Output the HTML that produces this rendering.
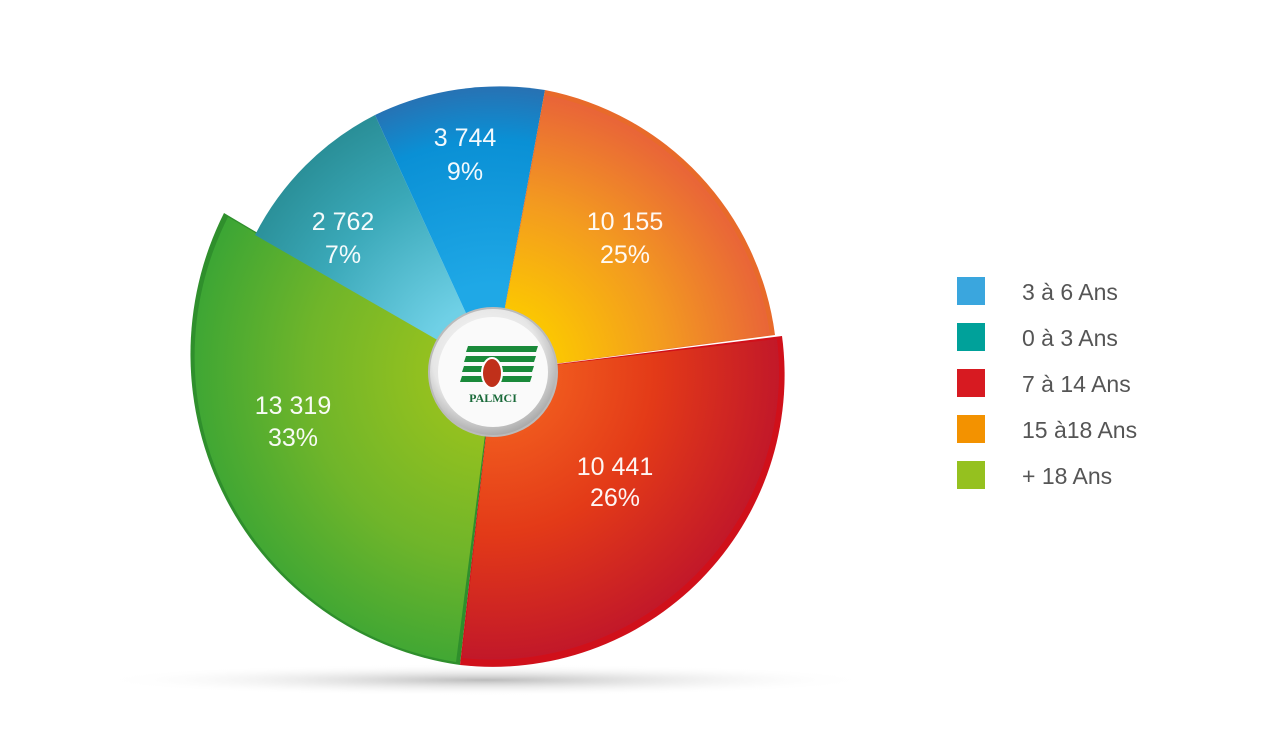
<!DOCTYPE html>
<html><head><meta charset="utf-8"><style>
html,body{margin:0;padding:0;background:#fff;}
svg{display:block;font-family:"Liberation Sans",sans-serif;}
</style></head><body>
<svg width="1269" height="751" viewBox="0 0 1269 751">
<defs>
<radialGradient id="sh" cx="50%" cy="50%" r="50%"><stop offset="0" stop-color="#bbb"/><stop offset="1" stop-color="#fff" stop-opacity="0"/></radialGradient>
<radialGradient id="gBlue" gradientUnits="userSpaceOnUse" cx="493" cy="372" r="290"><stop offset="0.3" stop-color="#1fa8e6"/><stop offset="0.8" stop-color="#0a90d5"/><stop offset="1" stop-color="#2a6fb0"/></radialGradient>
<radialGradient id="gTeal" gradientUnits="userSpaceOnUse" cx="493" cy="372" r="280"><stop offset="0.25" stop-color="#6fd0e6"/><stop offset="0.7" stop-color="#3aa8b8"/><stop offset="1" stop-color="#2a8f98"/></radialGradient>
<radialGradient id="gOrange" gradientUnits="userSpaceOnUse" cx="493" cy="372" r="290"><stop offset="0.2" stop-color="#fcc900"/><stop offset="0.6" stop-color="#f39a20"/><stop offset="1" stop-color="#e8603a"/></radialGradient>
<radialGradient id="gRed" gradientUnits="userSpaceOnUse" cx="493" cy="372" r="295"><stop offset="0.2" stop-color="#f05a1e"/><stop offset="0.55" stop-color="#e33a18"/><stop offset="1" stop-color="#c0162a"/></radialGradient>
<radialGradient id="gGreen" gradientUnits="userSpaceOnUse" cx="493" cy="372" r="310"><stop offset="0.2" stop-color="#94c11f"/><stop offset="0.6" stop-color="#6fb52a"/><stop offset="1" stop-color="#3aa535"/></radialGradient>
<radialGradient id="gLogo" cx="45%" cy="40%" r="60%"><stop offset="0" stop-color="#fff"/><stop offset="0.7" stop-color="#e6e6e6"/><stop offset="1" stop-color="#aaa"/></radialGradient>
</defs>
<ellipse cx="485" cy="680" rx="390" ry="16" fill="url(#sh)"/>
<path d="M493,372 L460,665 A314,314 0 0 1 224,213 Z" fill="#2f8f2c"/>
<path d="M493,372 L456,662 A309,309 0 0 1 228,217 Z" fill="url(#gGreen)"/>
<path d="M493,372 L255,235 A275,275 0 0 1 375,115 Z" fill="url(#gTeal)"/>
<path d="M493,372 L375,115 A285,285 0 0 1 545,90 Z" fill="url(#gBlue)"/>
<path d="M493,372 L545,90 A287,287 0 0 1 775,335 Z" fill="#e86a2a"/>
<path d="M493,372 L545,95 A282,282 0 0 1 770,335 Z" fill="url(#gOrange)"/>
<path d="M493,372 L782,336 A292,292 0 0 1 460,665 Z" fill="#d0101a"/>
<path d="M493,372 L777,339 A287,287 0 0 1 462,658 Z" fill="url(#gRed)"/>
<circle cx="493" cy="372" r="64" fill="url(#gLogo)" stroke="#bbb" stroke-width="2"/>
<circle cx="493" cy="372" r="55" fill="#fafafa"/>
<g fill="#1a8a3a">
<polygon points="468,346 538,346 536,352 466,352"/>
<polygon points="466,356 536,356 534,362 464,362"/>
<polygon points="464,366 534,366 532,372 462,372"/>
<polygon points="462,376 532,376 530,382 460,382"/>
</g>
<ellipse cx="492" cy="373" rx="10" ry="15" fill="#c0301a" stroke="#fff" stroke-width="2"/>
<text x="493" y="402" text-anchor="middle" font-family="Liberation Serif,serif" font-weight="bold" font-size="12" fill="#1a6a3a">PALMCI</text>
<g fill="#fff" font-size="25" text-anchor="middle" fill-opacity="0.95">
<text x="465" y="146">3 744</text><text x="465" y="180">9%</text>
<text x="343" y="230">2 762</text><text x="343" y="263">7%</text>
<text x="625" y="230">10 155</text><text x="625" y="263">25%</text>
<text x="293" y="414">13 319</text><text x="293" y="446">33%</text>
<text x="615" y="475">10 441</text><text x="615" y="506">26%</text>
</g>
<rect x="957" y="277" width="28" height="28" fill="#3aa6de"/>
<rect x="957" y="323" width="28" height="28" fill="#00a19a"/>
<rect x="957" y="369" width="28" height="28" fill="#d71a21"/>
<rect x="957" y="415" width="28" height="28" fill="#f39200"/>
<rect x="957" y="461" width="28" height="28" fill="#95c11f"/>
<g fill="#555" font-size="23">
<text x="1022" y="300">3 à 6 Ans</text>
<text x="1022" y="346">0 à 3 Ans</text>
<text x="1022" y="392">7 à 14 Ans</text>
<text x="1022" y="438">15 à18 Ans</text>
<text x="1022" y="484">+ 18 Ans</text>
</g>
</svg>
</body></html>
